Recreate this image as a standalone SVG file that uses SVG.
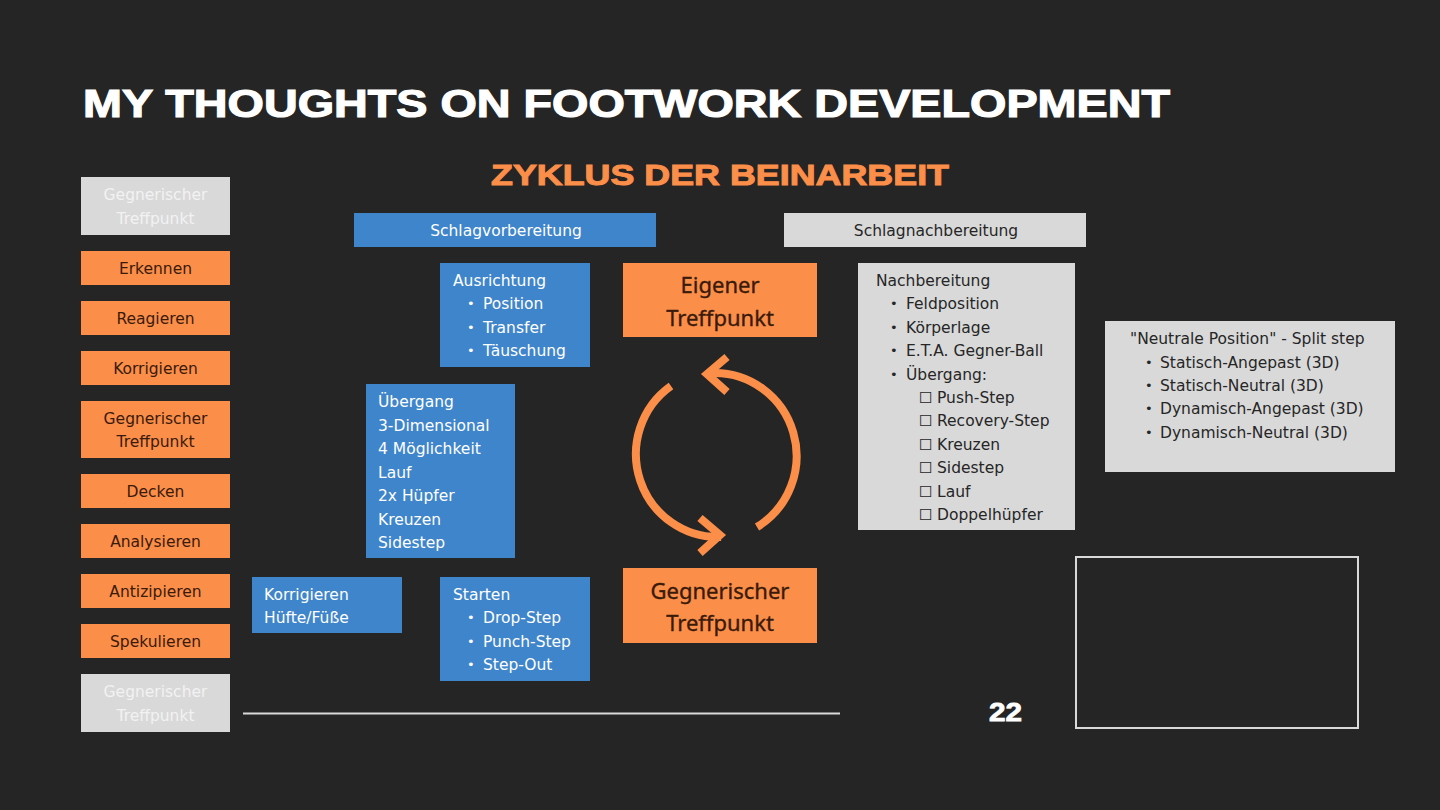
<svg xmlns="http://www.w3.org/2000/svg" width="1440" height="810" viewBox="0 0 1440 810">
<style>
.bg{fill:#252525}
.or{fill:#FB8E49}
.bl{fill:#3F85CB}
.gr{fill:#D9D9D9}
.t{font-family:"DejaVu Sans","Verdana",sans-serif;font-size:15.5px}
.b{font-family:"DejaVu Sans","Verdana",sans-serif;font-size:13px}
.tc{text-anchor:middle}
.dk{fill:#3A1A0B}
.wh{fill:#FFFFFF}
.gt{fill:#262626}
.lt{fill:#F2F2F2}
.big{font-family:"Noto Sans","Open Sans",sans-serif;font-size:22px;text-anchor:middle;fill:#3A1A0B;stroke:#3A1A0B;stroke-width:0.35}
.cyc{fill:none;stroke:#FB8E49;stroke-width:8}
</style>
<rect class="bg" x="0" y="0" width="1440" height="810"/>
<text x="83" y="117" font-family="'Liberation Sans', Arial, sans-serif" font-weight="bold" font-size="39" fill="#FFFFFF" stroke="#FFFFFF" stroke-width="1.2" textLength="1087" lengthAdjust="spacingAndGlyphs">MY THOUGHTS ON FOOTWORK DEVELOPMENT</text>
<text x="491" y="185" font-family="'Liberation Sans', Arial, sans-serif" font-weight="bold" font-size="30" fill="#FB8E49" stroke="#FB8E49" stroke-width="1" textLength="458" lengthAdjust="spacingAndGlyphs">ZYKLUS DER BEINARBEIT</text>

<g id="left-top"><rect class="gr" x="81" y="177" width="149" height="58"/><text class="t tc lt" x="155.5" y="200">Gegnerischer</text><text class="t tc lt" x="155.5" y="224">Treffpunkt</text></g>
<g id="erkennen"><rect class="or" x="81" y="251" width="149" height="34"/><text class="t tc dk" x="155.5" y="274">Erkennen</text></g>
<g id="reagieren"><rect class="or" x="81" y="301" width="149" height="34"/><text class="t tc dk" x="155.5" y="324">Reagieren</text></g>
<g id="korrigieren"><rect class="or" x="81" y="351" width="149" height="34"/><text class="t tc dk" x="155.5" y="374">Korrigieren</text></g>
<g id="gegner-left"><rect class="or" x="81" y="401" width="149" height="57"/><text class="t tc dk" x="155.5" y="424">Gegnerischer</text><text class="t tc dk" x="155.5" y="447">Treffpunkt</text></g>
<g id="decken"><rect class="or" x="81" y="474" width="149" height="34"/><text class="t tc dk" x="155.5" y="497">Decken</text></g>
<g id="analysieren"><rect class="or" x="81" y="524" width="149" height="34"/><text class="t tc dk" x="155.5" y="547">Analysieren</text></g>
<g id="antizipieren"><rect class="or" x="81" y="574" width="149" height="34"/><text class="t tc dk" x="155.5" y="597">Antizipieren</text></g>
<g id="spekulieren"><rect class="or" x="81" y="624" width="149" height="34"/><text class="t tc dk" x="155.5" y="647">Spekulieren</text></g>
<g id="left-bottom"><rect class="gr" x="81" y="674" width="149" height="58"/><text class="t tc lt" x="155.5" y="697">Gegnerischer</text><text class="t tc lt" x="155.5" y="721">Treffpunkt</text></g>

<g id="schlagvorbereitung"><rect class="bl" x="354" y="213" width="302" height="34"/><text class="t tc wh" x="506" y="236">Schlagvorbereitung</text></g>
<g id="schlagnachbereitung"><rect class="gr" x="784" y="213" width="302" height="34"/><text class="t tc gt" x="936" y="236">Schlagnachbereitung</text></g>

<g id="ausrichtung"><rect class="bl" x="440" y="263" width="150" height="104"/>
<text class="t wh" x="453" y="286">Ausrichtung</text>
<text class="b wh" x="467" y="308">•</text><text class="t wh" x="483" y="309">Position</text>
<text class="b wh" x="467" y="332">•</text><text class="t wh" x="483" y="333">Transfer</text>
<text class="b wh" x="467" y="355">•</text><text class="t wh" x="483" y="356">Täuschung</text></g>

<g id="uebergang"><rect class="bl" x="366" y="384" width="149" height="174"/>
<text class="t wh" x="378" y="407">Übergang</text>
<text class="t wh" x="378" y="431">3-Dimensional</text>
<text class="t wh" x="378" y="454">4 Möglichkeit</text>
<text class="t wh" x="378" y="478">Lauf</text>
<text class="t wh" x="378" y="501">2x Hüpfer</text>
<text class="t wh" x="378" y="525">Kreuzen</text>
<text class="t wh" x="378" y="548">Sidestep</text></g>

<g id="korrigieren-huefte"><rect class="bl" x="252" y="577" width="150" height="56"/>
<text class="t wh" x="264" y="600">Korrigieren</text>
<text class="t wh" x="264" y="623">Hüfte/Füße</text></g>

<g id="starten"><rect class="bl" x="440" y="577" width="150" height="104"/>
<text class="t wh" x="453" y="600">Starten</text>
<text class="b wh" x="467" y="622">•</text><text class="t wh" x="483" y="623">Drop-Step</text>
<text class="b wh" x="467" y="646">•</text><text class="t wh" x="483" y="647">Punch-Step</text>
<text class="b wh" x="467" y="669">•</text><text class="t wh" x="483" y="670">Step-Out</text></g>

<g id="eigener"><rect class="or" x="623" y="263" width="194" height="74"/>
<text class="big" x="720" y="293">Eigener</text><text class="big" x="720" y="326">Treffpunkt</text></g>
<g id="gegner-center"><rect class="or" x="623" y="568" width="194" height="75"/>
<text class="big" x="720" y="599">Gegnerischer</text><text class="big" x="720" y="631">Treffpunkt</text></g>

<g id="connectors">
<path class="cyc" d="M 712 373 A 82 83 0 0 1 757 527"/>
<polyline class="cyc" points="727,357 707,374 727,392"/>
<path class="cyc" d="M 671 386 A 82 83 0 0 0 721 537"/>
<polyline class="cyc" points="700,518 720,535 700,553"/>
<line x1="243" y1="713.5" x2="840" y2="713.5" stroke="#D9D9D9" stroke-width="2"/>
</g>

<g id="nachbereitung"><rect class="gr" x="858" y="263" width="217" height="267"/>
<text class="t gt" x="876" y="286">Nachbereitung</text>
<text class="b gt" x="890" y="308">•</text><text class="t gt" x="906" y="309">Feldposition</text>
<text class="b gt" x="890" y="332">•</text><text class="t gt" x="906" y="333">Körperlage</text>
<text class="b gt" x="890" y="355">•</text><text class="t gt" x="906" y="356">E.T.A. Gegner-Ball</text>
<text class="b gt" x="890" y="379">•</text><text class="t gt" x="906" y="380">Übergang:</text>
<text class="t gt" x="919" y="403">☐</text><text class="t gt" x="937" y="403">Push-Step</text>
<text class="t gt" x="919" y="426">☐</text><text class="t gt" x="937" y="426">Recovery-Step</text>
<text class="t gt" x="919" y="450">☐</text><text class="t gt" x="937" y="450">Kreuzen</text>
<text class="t gt" x="919" y="473">☐</text><text class="t gt" x="937" y="473">Sidestep</text>
<text class="t gt" x="919" y="497">☐</text><text class="t gt" x="937" y="497">Lauf</text>
<text class="t gt" x="919" y="520">☐</text><text class="t gt" x="937" y="520">Doppelhüpfer</text></g>

<g id="neutrale"><rect class="gr" x="1105" y="321" width="290" height="151"/>
<text class="t gt" x="1130" y="344">"Neutrale Position" - Split step</text>
<text class="b gt" x="1145" y="367">•</text><text class="t gt" x="1160" y="368">Statisch-Angepast (3D)</text>
<text class="b gt" x="1145" y="390">•</text><text class="t gt" x="1160" y="391">Statisch-Neutral (3D)</text>
<text class="b gt" x="1145" y="413">•</text><text class="t gt" x="1160" y="414">Dynamisch-Angepast (3D)</text>
<text class="b gt" x="1145" y="437">•</text><text class="t gt" x="1160" y="438">Dynamisch-Neutral (3D)</text></g>

<g id="empty-box"><rect x="1076" y="557" width="282" height="171" fill="none" stroke="#D9D9D9" stroke-width="2"/></g>
<text x="989" y="721" font-family="'Liberation Sans', Arial, sans-serif" font-weight="bold" font-size="25" fill="#FFFFFF" stroke="#FFFFFF" stroke-width="0.8" textLength="33" lengthAdjust="spacingAndGlyphs">22</text>
</svg>
